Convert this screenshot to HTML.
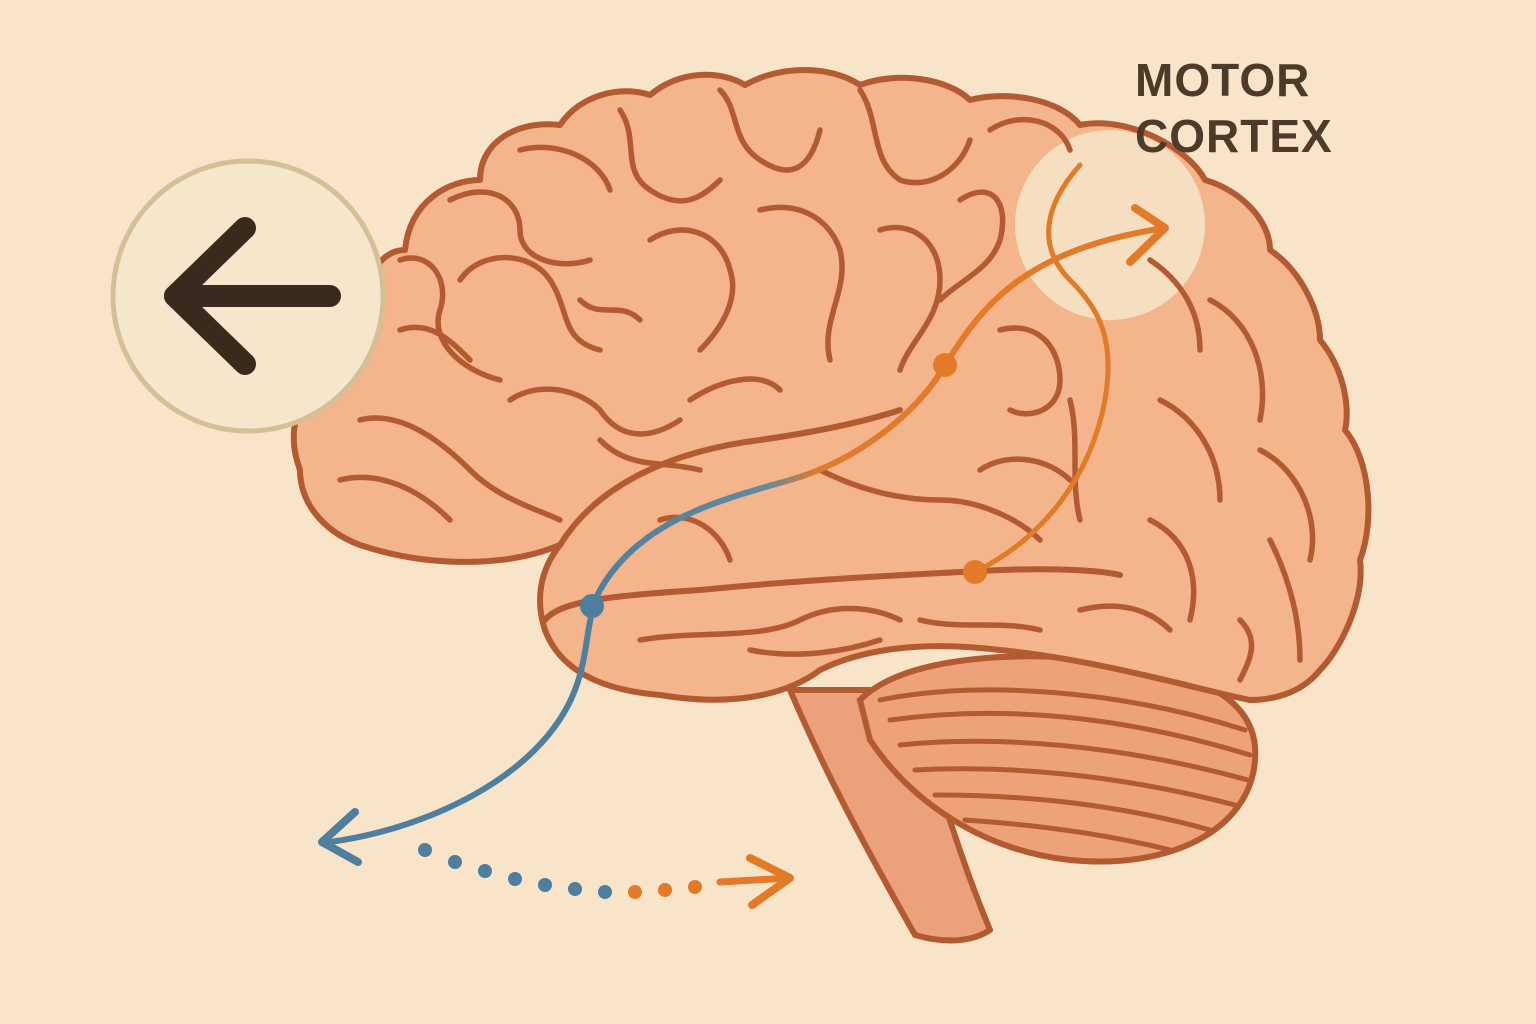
<!DOCTYPE html>
<html><head><meta charset="utf-8"><style>
html,body{margin:0;padding:0;background:#f8e4c8;}
svg{display:block}
</style></head><body>
<svg width="1536" height="1024" viewBox="0 0 1536 1024" xmlns="http://www.w3.org/2000/svg">
<defs>
<linearGradient id="bo" x1="590" y1="600" x2="940" y2="370" gradientUnits="userSpaceOnUse">
<stop offset="0" stop-color="#4e7f9e"/><stop offset="0.5" stop-color="#5f8aa0"/><stop offset="0.62" stop-color="#e07b2c"/><stop offset="1" stop-color="#e37a28"/>
</linearGradient>
</defs>
<rect width="1536" height="1024" fill="#f8e4c8"/>

<!-- brainstem -->
<path d="M790 690 C820 760 850 820 915 935 C950 945 975 940 990 930 C965 870 950 820 930 760 L900 690 Z" fill="#eba27c" stroke="#b35a30" stroke-width="6" stroke-linejoin="round"/>
<!-- cerebellum -->
<path d="M860 700 C900 660 1000 650 1100 660 C1200 670 1260 700 1255 760 C1250 830 1170 870 1070 860 C980 850 910 800 870 740 Z" fill="#eea27a" stroke="#b35a30" stroke-width="6"/>
<g fill="none" stroke="#b35a30" stroke-width="5" stroke-linecap="round">
<path d="M880 700 C980 680 1120 690 1245 730"/>
<path d="M890 720 C1000 705 1120 715 1250 755"/>
<path d="M900 745 C1000 735 1120 745 1248 780"/>
<path d="M915 770 C1010 765 1120 775 1235 805"/>
<path d="M935 795 C1030 795 1120 805 1210 830"/>
<path d="M965 820 C1040 825 1110 835 1170 850"/>
</g>

<!-- cerebrum -->
<path d="M300 470 C285 430 300 400 315 385 C310 350 340 320 375 320 C360 280 380 250 405 250 C410 200 450 180 480 180 C480 140 520 120 560 125 C580 95 620 85 650 95 C680 70 720 70 745 85 C780 65 830 65 860 85 C900 70 950 80 970 100 C1010 90 1060 100 1080 125 C1130 115 1190 150 1205 180 C1240 190 1270 220 1270 250 C1300 270 1320 310 1320 340 C1345 370 1350 410 1345 430 C1370 460 1375 520 1360 560 C1365 600 1340 650 1320 670 C1300 695 1270 700 1250 700 C1200 690 1100 660 1000 650 C920 640 860 650 820 670 C780 700 720 705 660 695 C600 690 560 670 545 630 C535 600 540 570 560 545 C500 570 420 565 360 545 C320 530 300 500 300 470 Z" fill="#f4b48c" stroke="#b35a30" stroke-width="6" stroke-linejoin="round"/>

<!-- motor cortex highlight -->
<circle cx="1110" cy="225" r="95" fill="#f6e0c4" opacity="0.95"/>

<!-- temporal lobe outline -->
<path d="M560 545 C600 480 680 450 760 440 C830 430 870 420 900 410" fill="none" stroke="#b35a30" stroke-width="6" stroke-linecap="round"/>
<path d="M545 620 C560 600 620 595 700 590 C800 580 900 575 1000 570 C1050 568 1100 570 1120 575" fill="none" stroke="#b35a30" stroke-width="6" stroke-linecap="round"/>

<!-- sulci -->
<g fill="none" stroke="#b35a30" stroke-width="5.5" stroke-linecap="round">
<path d="M340 480 C380 470 420 490 450 520"/>
<path d="M360 420 C400 410 440 440 470 470 C500 500 540 510 560 520"/>
<path d="M400 330 C430 320 450 340 470 360"/>
<path d="M400 260 C430 250 450 280 440 310 C430 340 460 370 500 380"/>
<path d="M450 200 C490 180 520 200 520 230 C520 260 560 270 590 260"/>
<path d="M520 150 C560 140 600 160 610 190"/>
<path d="M460 280 C480 250 530 250 550 280 C570 310 560 340 600 350"/>
<path d="M510 400 C540 380 580 390 600 410 C620 440 650 440 680 420"/>
<path d="M620 110 C640 140 620 170 650 190 C680 210 700 200 720 180"/>
<path d="M650 240 C680 220 720 230 730 270 C740 300 720 330 700 350"/>
<path d="M580 300 C600 320 620 300 640 320"/>
<path d="M600 440 C630 470 660 460 700 470"/>
<path d="M720 90 C740 110 730 140 760 160 C790 180 810 170 820 130"/>
<path d="M760 210 C800 200 830 220 840 250 C850 290 820 320 830 360"/>
<path d="M690 400 C720 380 760 370 780 390"/>
<path d="M860 90 C880 120 870 160 900 180 C930 190 960 170 970 140"/>
<path d="M880 230 C910 220 940 240 940 280 C940 320 910 340 900 370"/>
<path d="M990 130 C1020 110 1060 120 1070 150"/>
<path d="M960 200 C990 180 1010 200 1000 240 C990 270 960 280 940 300"/>
<path d="M1000 330 C1040 320 1060 350 1060 380 C1060 410 1030 420 1010 410"/>
<path d="M1150 260 C1180 280 1200 310 1200 350"/>
<path d="M1210 300 C1250 320 1270 370 1260 420"/>
<path d="M1160 400 C1200 420 1220 460 1220 500"/>
<path d="M1260 450 C1300 470 1320 520 1310 560"/>
<path d="M1150 520 C1190 540 1200 580 1190 620"/>
<path d="M1270 540 C1290 580 1300 620 1300 660"/>
<path d="M1080 610 C1120 600 1150 610 1170 630"/>
<path d="M1240 620 C1260 640 1250 660 1240 680"/>
<path d="M980 470 C1010 450 1050 460 1070 480"/>
<path d="M1070 400 C1080 440 1070 480 1080 520"/>
<path d="M820 470 C860 490 900 500 940 500 C980 500 1020 520 1040 540"/>
<path d="M640 640 C700 630 760 640 800 620 C840 600 880 610 900 620"/>
<path d="M660 520 C690 510 720 530 730 560"/>
<path d="M750 650 C800 660 850 650 880 640"/>
<path d="M920 620 C960 630 1000 620 1040 630"/>
</g>

<!-- pathways -->
<g fill="none" stroke-linecap="round">
<path d="M330 842 C420 830 540 780 575 690 C590 650 585 620 600 590 C640 520 720 500 790 480 C860 460 920 410 945 365" stroke="url(#bo)" stroke-width="6"/>
<path d="M945 365 C980 310 1020 250 1165 228" stroke="#e37a28" stroke-width="6"/>
<path d="M1135 208 L1165 228 L1130 262" stroke="#e37a28" stroke-width="8" stroke-linejoin="round"/>
<path d="M355 812 L322 842 L358 862" stroke="#4e7f9e" stroke-width="8" stroke-linejoin="round"/>
<path d="M975 572 C1040 540 1090 480 1105 400 C1115 340 1100 310 1070 280 C1040 250 1040 210 1080 165" stroke="#e37a28" stroke-width="5"/>
<path d="M720 882 L790 878" stroke="#e37a28" stroke-width="7"/>
<path d="M750 858 L790 878 L752 905" stroke="#e37a28" stroke-width="8" stroke-linejoin="round"/>
</g>
<circle cx="592" cy="606" r="12" fill="#4e7f9e"/>
<circle cx="945" cy="365" r="12" fill="#e37a28"/>
<circle cx="975" cy="572" r="12" fill="#e37a28"/>
<g fill="#4e7f9e">
<circle cx="425" cy="850" r="7"/><circle cx="455" cy="862" r="7"/><circle cx="485" cy="871" r="7"/><circle cx="515" cy="879" r="7"/><circle cx="545" cy="885" r="7"/><circle cx="575" cy="889" r="7"/><circle cx="605" cy="892" r="7"/>
</g>
<g fill="#e37a28">
<circle cx="635" cy="892" r="7"/><circle cx="665" cy="890" r="7"/><circle cx="695" cy="887" r="7"/>
</g>

<!-- back circle -->
<circle cx="248" cy="296" r="135" fill="#f5e6cc" stroke="#d5bf95" stroke-width="5"/>
<g fill="none" stroke="#3a2a1e" stroke-width="22" stroke-linecap="round" stroke-linejoin="round">
<path d="M330 296 L175 296"/>
<path d="M245 228 L175 296 L245 364"/>
</g>

<text x="1135" y="96" font-family="Liberation Sans, sans-serif" font-size="46" font-weight="bold" fill="#4e3a28" letter-spacing="1">MOTOR</text>
<text x="1135" y="152" font-family="Liberation Sans, sans-serif" font-size="46" font-weight="bold" fill="#4e3a28" letter-spacing="1">CORTEX</text>
</svg>
</body></html>
